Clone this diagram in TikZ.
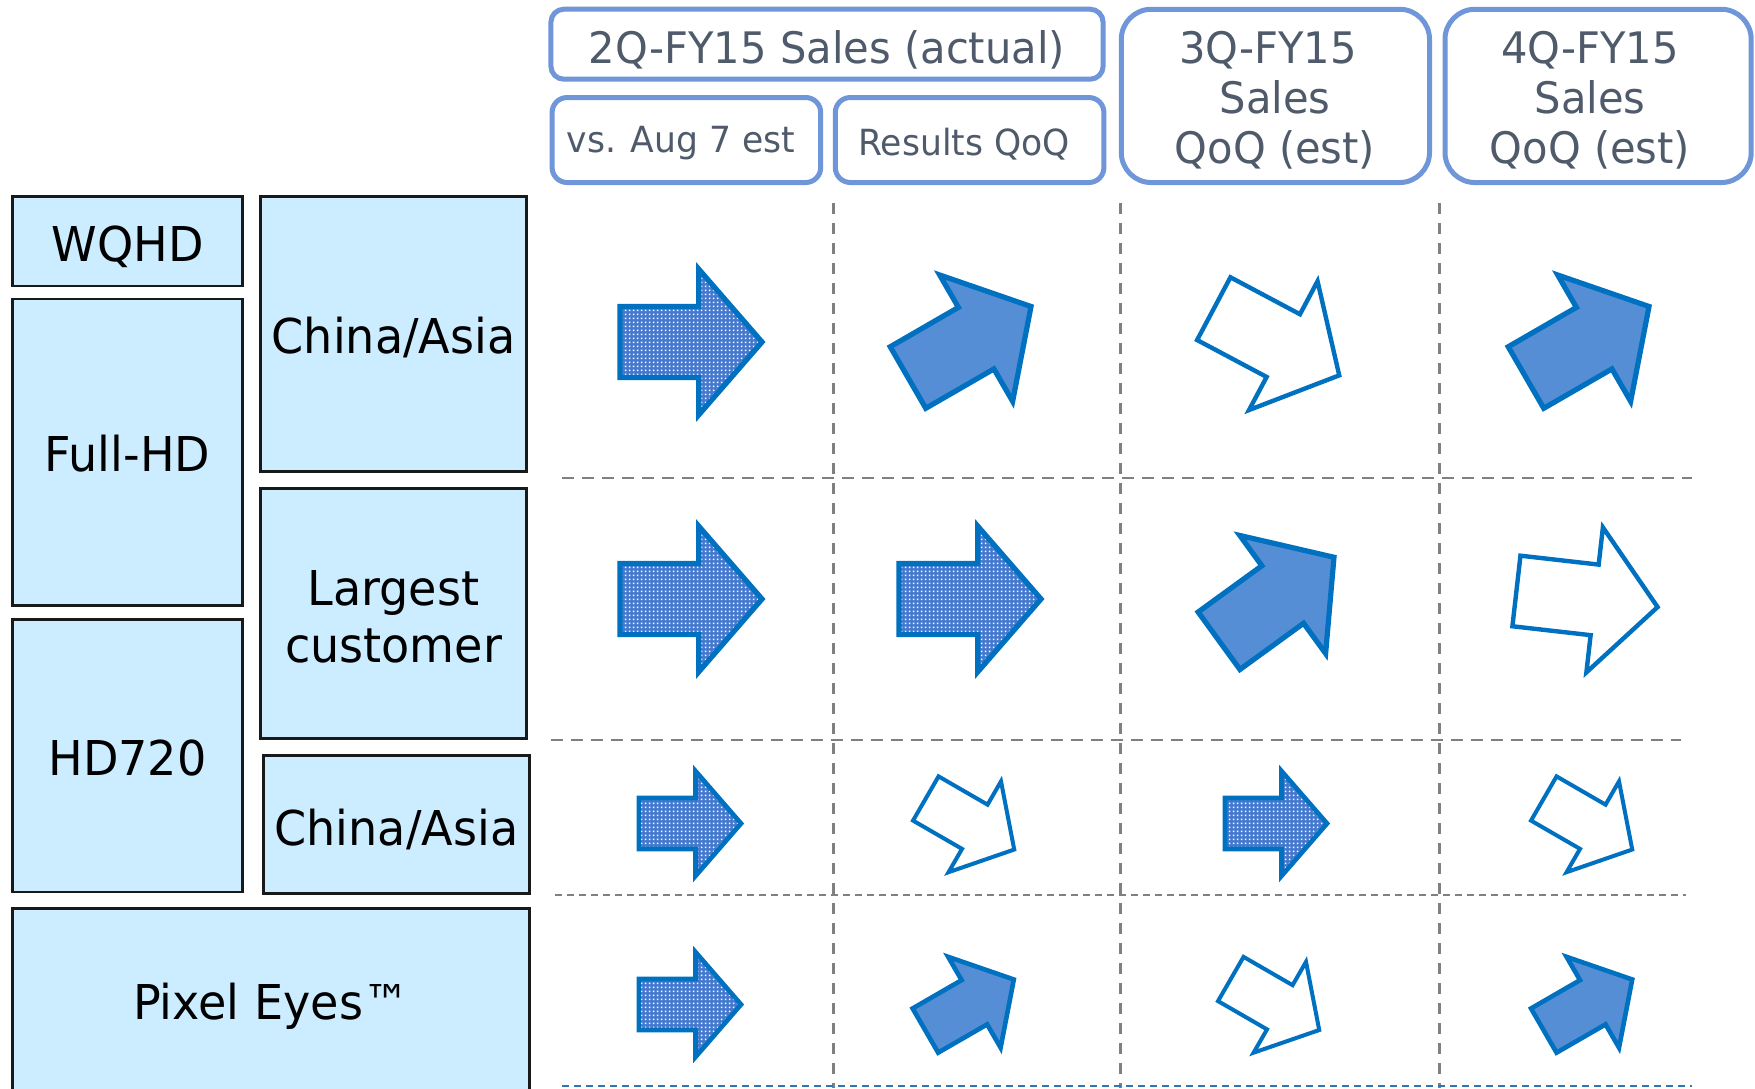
\documentclass[tikz,border=0pt]{standalone}
\usepackage{fontspec}
\setmainfont{DejaVu Sans}[FakeStretch=0.96]
\usetikzlibrary{patterns}
\definecolor{arrline}{HTML}{0070C0}
\definecolor{arrfill}{HTML}{558ED5}
\definecolor{dotbase}{HTML}{4479CD}
\definecolor{hdrline}{HTML}{6F96D8}
\definecolor{hdrtext}{HTML}{4F5A6B}
\definecolor{lbfill}{HTML}{CCECFF}
\definecolor{gridgray}{HTML}{808080}
\definecolor{gridblue}{HTML}{2E75B6}
\pgfdeclarepatternformonly{smalldots}{\pgfqpoint{0pt}{0pt}}{\pgfqpoint{2pt}{2pt}}{\pgfqpoint{2pt}{2pt}}{%
  \pgfpathrectangle{\pgfqpoint{0.5pt}{0.5pt}}{\pgfqpoint{1pt}{1pt}}\pgfusepath{fill}}
\newcommand\blockarrow[6]{% name, x, y, angle, scale, style
  \begin{scope}[shift={(#2,#3)}, rotate=#4, scale=#5]
    \coordinate (#1) at (0,0);
    \path[#6] (-74,-37) -- (8,-37) -- (8,-76) -- (74,0) -- (8,76) -- (8,37) -- (-74,37) -- cycle;
  \end{scope}}
\tikzset{
  dotarrow/.style={draw=arrline, line width=2.6pt, preaction={fill=dotbase}, pattern=smalldots, pattern color=white},
  fillarrow/.style={draw=arrline, line width=2.6pt, fill=arrfill},
  hollowarrow/.style={draw=arrline, line width=2.2pt, fill=white},
  hbox/.style={draw=hdrline, line width=2.5pt, inner sep=0pt},
  lbox/.style={draw=black!90, fill=lbfill, line width=1.35pt, inner sep=0pt},
  hdrbig/.style={font=\fontsize{21.7pt}{26pt}\selectfont, text=hdrtext, anchor=base, inner sep=0pt},
  hdrsmall/.style={font=\fontsize{18pt}{22pt}\selectfont, text=hdrtext, anchor=base, inner sep=0pt},
  lbl/.style={font=\fontsize{24pt}{28.5pt}\selectfont, text=black, anchor=base, inner sep=0pt},
  griddash/.style={gridgray, line width=1.3pt, dash pattern=on 6pt off 4pt},
  gridvert/.style={gridgray, line width=1.3pt, dash pattern=on 5.5pt off 4.5pt},
  gridshort/.style={gridgray, line width=1.3pt, dash pattern=on 3.5pt off 2.5pt},
  gridbot/.style={gridblue, line width=1.3pt, dash pattern=on 3.5pt off 2.5pt},
}
\begin{document}
\begin{tikzpicture}[x=0.5pt, y=-0.5pt]
\useasboundingbox (0,0) rectangle (1755,1088);
\clip (0,0) rectangle (1755,1088);
\fill[white] (0,0) rectangle (1755,1088);

% grid lines
\draw[gridvert] (833.5,203) -- (833.5,1088);
\draw[gridvert] (1120.5,203) -- (1120.5,1088);
\draw[gridvert] (1439.5,203) -- (1439.5,1088);
\draw[griddash] (562,478) -- (1692,478);
\draw[griddash] (551,740) -- (1681,740);
\draw[gridshort] (555,895) -- (1686,895);
\draw[gridbot] (562,1086) -- (1692,1086);

% header boxes
\node[hbox, rounded corners=6.5pt, minimum width=276.1pt, minimum height=35pt] (h2q) at (827,44.2) {};
\node[hbox, rounded corners=7.5pt, minimum width=134.3pt, minimum height=42.5pt] (haug) at (686.4,140) {};
\node[hbox, rounded corners=7.5pt, minimum width=134.3pt, minimum height=42.5pt] (hres) at (969.6,140) {};
\node[hbox, rounded corners=15pt, minimum width=154.1pt, minimum height=86.65pt] (h3q) at (1275.4,95.9) {};
\node[hbox, rounded corners=15pt, minimum width=153.1pt, minimum height=86.65pt] (h4q) at (1598.1,95.9) {};

\node[hdrbig] (t2q) at (827,63.3) {2Q-FY15 Sales (actual)};
\node[hdrsmall] (taug) at (681,152) {vs. Aug 7 est};
\node[hdrsmall] (tres) at (964,155) {Results QoQ};
\node[hdrbig] (t3qa) at (1268,63.3) {3Q-FY15};
\node[hdrbig] (t3qb) at (1275,113.3) {Sales};
\node[hdrbig] (t3qc) at (1275,163.3) {QoQ (est)};
\node[hdrbig] (t4qa) at (1590,63.3) {4Q-FY15};
\node[hdrbig] (t4qb) at (1590,113.3) {Sales};
\node[hdrbig] (t4qc) at (1590,163.3) {QoQ (est)};

% left boxes
\node[lbox, minimum width=114.7pt, minimum height=44.8pt] (bwqhd) at (127.5,241.2) {};
\node[lbox, minimum width=114.7pt, minimum height=153.2pt] (bfhd) at (127.5,452.2) {};
\node[lbox, minimum width=133.2pt, minimum height=137.7pt] (bca1) at (393.5,334) {};
\node[lbox, minimum width=133.2pt, minimum height=125.2pt] (blc) at (393.5,613.5) {};
\node[lbox, minimum width=114.7pt, minimum height=136.3pt] (bhd) at (127.5,755.6) {};
\node[lbox, minimum width=133.1pt, minimum height=68.7pt] (bca2) at (396.4,824.5) {};
\node[lbox, minimum width=258.4pt, minimum height=120pt] (bpe) at (271.1,1028.7) {};

\node[lbl] (lwqhd) at (127.5,261.7) {WQHD};
\node[lbl] (lfhd) at (127.5,471.7) {Full-HD};
\node[lbl] (lca1) at (393.5,353.3) {China/Asia};
\node[lbl] (llc1) at (393.5,605) {Largest};
\node[lbl] (llc2) at (393.5,662) {customer};
\node[lbl] (lhd) at (127.5,775.7) {HD720};
\node[lbl] (lca2) at (396.4,845) {China/Asia};
\node[lbl] (lpe) at (271.1,1019.7) {Pixel Eyes™};

% arrows row 1
\blockarrow{a11}{691}{342}{0}{0.96}{dotarrow}
\blockarrow{a12}{969.5}{342}{30}{0.96}{fillarrow}
\blockarrow{a13}{1276.5}{342}{-28}{0.96}{hollowarrow}
\blockarrow{a14}{1587.5}{342}{30}{0.96}{fillarrow}
% row 2
\blockarrow{a21}{691}{599}{0}{0.96}{dotarrow}
\blockarrow{a22}{970}{599}{0}{0.96}{dotarrow}
\blockarrow{a23}{1276.5}{599}{36}{0.96}{fillarrow}
\blockarrow{a24}{1587}{599}{-6.5}{0.96}{hollowarrow}
% row 3
\blockarrow{a31}{690}{823.5}{0}{0.69}{dotarrow, line width=2.3pt}
\blockarrow{a32}{970}{824}{-30}{0.69}{hollowarrow, line width=2pt}
\blockarrow{a33}{1276}{823.5}{0}{0.69}{dotarrow, line width=2.3pt}
\blockarrow{a34}{1588}{824}{-30}{0.69}{hollowarrow, line width=2pt}
% row 4
\blockarrow{a41}{690}{1004.5}{0}{0.69}{dotarrow, line width=2.3pt}
\blockarrow{a42}{969.6}{1005}{30}{0.69}{fillarrow, line width=2.3pt}
\blockarrow{a43}{1275}{1004.5}{-30}{0.69}{hollowarrow, line width=2pt}
\blockarrow{a44}{1588}{1005}{30}{0.69}{fillarrow, line width=2.3pt}
\end{tikzpicture}
\end{document}
